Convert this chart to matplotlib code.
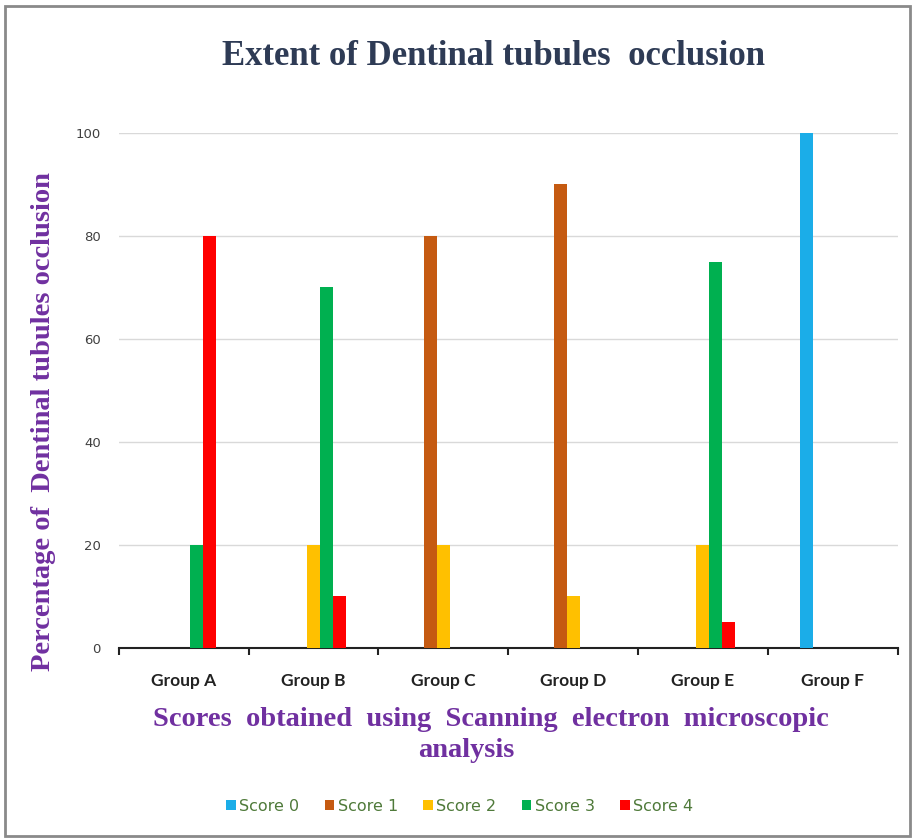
import matplotlib
matplotlib.use("Agg")
import matplotlib.pyplot as plt
import numpy as np
from matplotlib.patches import Rectangle

groups = ["Group A", "Group B", "Group C", "Group D", "Group E", "Group F"]
series = ["Score 0", "Score 1", "Score 2", "Score 3", "Score 4"]
score0 = [0, 0, 0, 0, 0, 100]
score1 = [0, 0, 80, 90, 0, 0]
score2 = [0, 20, 20, 10, 20, 0]
score3 = [20, 70, 0, 0, 75, 0]
score4 = [80, 10, 0, 0, 5, 0]
values = [score0, score1, score2, score3, score4]
colors = ["#1BADE8", "#C55A11", "#FFC000", "#00B050", "#FF0000"]
yticks = [0, 20, 40, 60, 80, 100]

fig = plt.figure(figsize=(9.14, 8.39), dpi=100)
fig.patch.set_facecolor("white")
fig.patches.append(Rectangle((0.006, 0.004), 0.99, 0.989, transform=fig.transFigure,
                             fill=False, edgecolor="#8a8a8a", linewidth=2.0))

ax = fig.add_axes([0.130, 0.2277, 0.852, 0.614])
x = np.arange(len(groups))
w = 0.1
for i, (name, vals, c) in enumerate(zip(series, values, colors)):
    ax.bar(x + (i - 2) * w, vals, width=w, color=c, label=name, zorder=3)

ax.set_xlim(-0.5, len(groups) - 0.5)
ax.set_ylim(0, 100)
ax.set_yticks(yticks)
ax.set_yticklabels([str(t) for t in yticks], fontsize=9.5, color="#404040")
ax.yaxis.grid(True, color="#d9d9d9", linewidth=1.0, zorder=0)
ax.tick_params(axis="y", length=0, pad=13)
for s in ["left", "right", "top"]:
    ax.spines[s].set_visible(False)
ax.spines["bottom"].set_color("#222222")
ax.spines["bottom"].set_linewidth(1.5)
ax.set_xticks(x)
ax.set_xticklabels(groups, fontsize=12.5, fontweight="bold", color="#222222", family="Lato")
ax.tick_params(axis="x", length=0, pad=18)
ax.set_xticks(np.arange(len(groups) + 1) - 0.5, minor=True)
ax.tick_params(axis="x", which="minor", length=5, width=1.5, color="#222222", direction="out")

fig.text(0.54, 0.933, "Extent of Dentinal tubules  occlusion", ha="center", va="center",
         fontsize=25, fontweight="bold", family="Liberation Serif", color="#2E3B55")
fig.text(0.048, 0.497, "Percentage of  Dentinal tubules occlusion", ha="center", va="center",
         rotation=90, fontsize=20.5, fontweight="bold", family="Liberation Serif", color="#7030A0")
fig.text(0.537, 0.143, "Scores  obtained  using  Scanning  electron  microscopic", ha="center",
         va="center", fontsize=20.5, fontweight="bold", family="Liberation Serif", color="#7030A0")
fig.text(0.51, 0.106, "analysis", ha="center", va="center",
         fontsize=20.5, fontweight="bold", family="Liberation Serif", color="#7030A0")

handles, labels = ax.get_legend_handles_labels()
leg = fig.legend(handles, labels, loc="center", bbox_to_anchor=(0.503, 0.039), ncol=5,
                 frameon=False, fontsize=11.5, handlelength=0.6, handleheight=0.6,
                 handletextpad=0.2, columnspacing=1.6)
for t in leg.get_texts():
    t.set_color("#4F7A3A")

fig.savefig("out.png", dpi=100)
